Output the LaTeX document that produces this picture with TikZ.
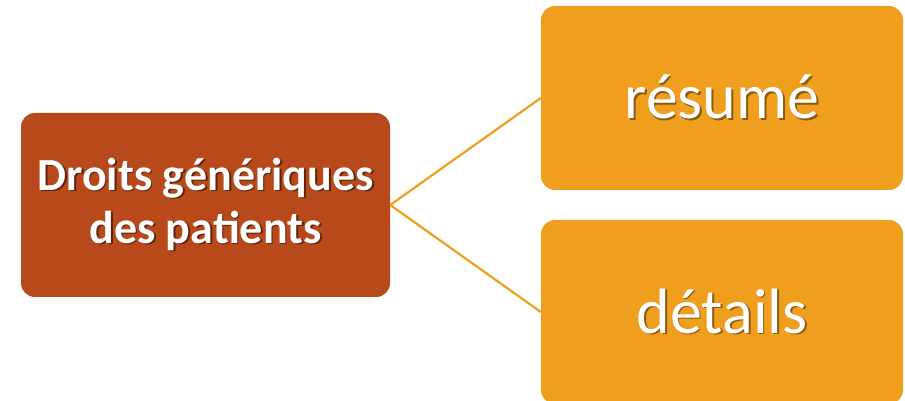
\documentclass[tikz,border=0pt]{standalone}
\usepackage{fontspec}
\setmainfont{Carlito}
\definecolor{rust}{HTML}{B7491A}
\definecolor{amber}{HTML}{F09E1D}
\definecolor{rustshade}{HTML}{5E2208}
\definecolor{ambershade}{HTML}{8A5A10}

% white text with a small offset shadow behind it
\newcommand{\shtext}[2]{\leavevmode\rlap{\kern1.8pt\raisebox{-1.8pt}{\color{#1}#2}}#2}

\tikzset{
    topicbox/.style={fill=rust, rounded corners=14pt, minimum width=369pt,
        minimum height=184pt, align=center, text=white,
        font=\fontsize{46}{53}\selectfont\bfseries},
    itembox/.style={fill=amber, rounded corners=14pt, minimum width=362pt,
        minimum height=184pt, text=white, font=\fontsize{64}{70}\selectfont},
    link/.style={amber, line width=2.2pt}
}

\begin{document}
\begin{tikzpicture}[x=1pt, y=1pt]
    % Frame
    \useasboundingbox (0,0) rectangle (905,401);
    \clip (0,0) rectangle (905,401);

    % Boxes
    \node[topicbox] (droits) at (205.5,196)
        {\shtext{rustshade}{Droits génériques}\\\shtext{rustshade}{des patients}};
    \node[itembox] (resume) at (722,303) {\shtext{ambershade}{résumé}};
    \node[itembox] (details) at (722,89) {\shtext{ambershade}{détails}};

    % Connectors
    \draw[link] (droits.east) -- (resume.west);
    \draw[link] (droits.east) -- (details.west);
\end{tikzpicture}
\end{document}
